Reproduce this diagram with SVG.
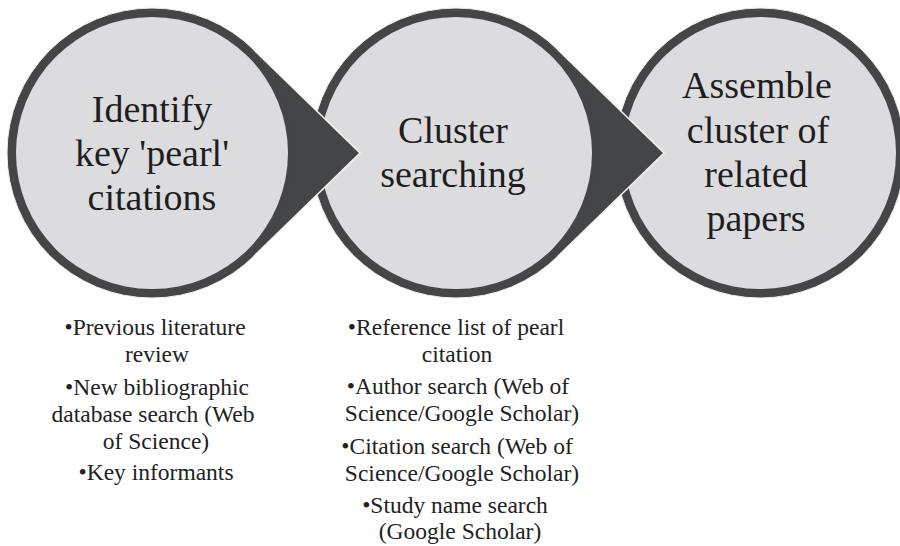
<svg xmlns="http://www.w3.org/2000/svg" width="900" height="546" viewBox="0 0 900 546">
<style>
.ring{fill:#444547;stroke:#ececec;stroke-width:1}
.inner{fill:#dcdcde}
.arrow{fill:#444547}
.edge{fill:none;stroke:#f4f4f4;stroke-width:1.5;stroke-linejoin:miter}
.title{font-family:"Liberation Serif","Times New Roman",serif;font-size:38px;fill:#1e1e1e;text-anchor:middle}
.bul{font-family:"Liberation Serif","Times New Roman",serif;font-size:23.5px;fill:#222;text-anchor:middle}
</style>
<rect width="900" height="546" fill="#ffffff"/>
<g id="node3">
<circle class="ring" cx="760" cy="153" r="145"/>
<circle class="inner" cx="760" cy="153" r="136"/>
<text class="title"><tspan x="757" y="98">Assemble</tspan><tspan x="758" y="143">cluster of</tspan><tspan x="756" y="187">related</tspan><tspan x="756" y="231">papers</tspan></text>
</g>
<g id="node2">
<circle class="ring" cx="456" cy="153" r="145"/>
<circle class="inner" cx="456" cy="153" r="136"/>
<text class="title"><tspan x="453" y="143">Cluster</tspan><tspan x="453" y="187">searching</tspan></text>
</g>
<g id="node1">
<circle class="ring" cx="152" cy="153" r="145"/>
<circle class="inner" cx="152" cy="153" r="136"/>
<text class="title"><tspan x="152" y="122">Identify</tspan><tspan x="152" y="166">key 'pearl'</tspan><tspan x="152" y="210">citations</tspan></text>
</g>
<g id="connectors">
<path class="arrow" d="M253.1 49 L360 153 L253.1 257 L249.6 253.4 A140 140 0 0 0 249.6 52.6 Z"/>
<path class="edge" d="M253.1 49 L360 153 L253.1 257"/>
<path class="arrow" d="M557.1 49 L664 153 L557.1 257 L553.6 253.4 A140 140 0 0 0 553.6 52.6 Z"/>
<path class="edge" d="M557.1 49 L664 153 L557.1 257"/>
</g>
<g id="list1">
<text class="bul"><tspan x="155" y="335">•Previous literature</tspan><tspan x="157" y="362">review</tspan><tspan x="157" y="395">•New bibliographic</tspan><tspan x="153" y="422">database search (Web</tspan><tspan x="156" y="449">of Science)</tspan><tspan x="156" y="480">•Key informants</tspan></text>
</g>
<g id="list2">
<text class="bul"><tspan x="456" y="335">•Reference list of pearl</tspan><tspan x="457" y="362">citation</tspan><tspan x="458" y="394">•Author search (Web of</tspan><tspan x="462" y="421">Science/Google Scholar)</tspan><tspan x="457" y="454">•Citation search (Web of</tspan><tspan x="462" y="481">Science/Google Scholar)</tspan><tspan x="455" y="513">•Study name search</tspan><tspan x="460" y="539">(Google Scholar)</tspan></text>
</g>
</svg>
